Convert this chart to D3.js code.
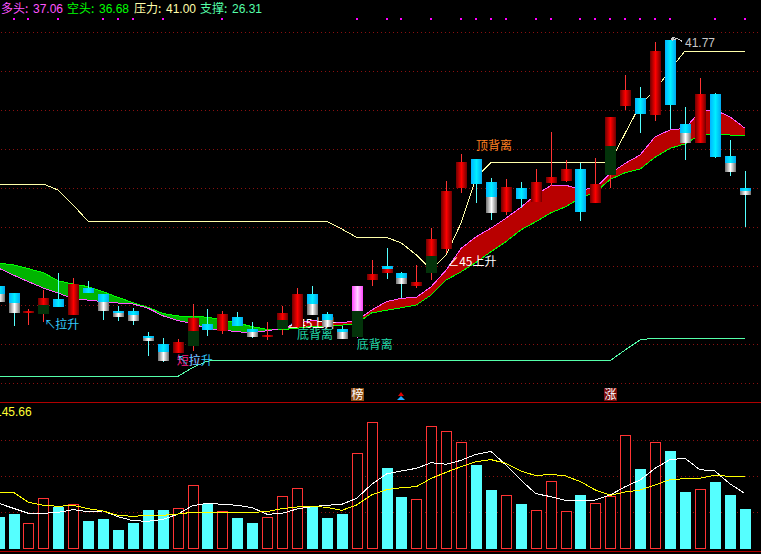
<!DOCTYPE html>
<html><head><meta charset="utf-8">
<style>html,body{margin:0;padding:0;background:#000;overflow:hidden}svg{display:block}
text{font-family:"Liberation Sans","Noto Sans CJK SC",sans-serif;font-size:12px}
.cjk{font-family:"Noto Sans CJK SC",sans-serif;font-size:12px}</style>
<script src="https://cdn.jsdelivr.net/npm/d3@7/dist/d3.min.js"></script>
</head><body><div id="c"></div>
<script>
const candleKind=["cg","cg","r","rg","c","r","c","cg","cg","cg","cg","cg","r","rg","c","r","c","cg","r","rg","r","cg","cg","cg","pg","r","cr","cg","r","rg","r","r","c","cg","r","c","r","r","r","c","r","rg","r","c","r","c","cg","r","c","cg","cg"];
const candleHigh=[28.97,28.61,27.79,28.77,29.64,29.38,29.23,28.56,27.95,27.83,26.60,26.31,26.26,28.05,27.79,27.69,27.64,27.13,27.13,27.95,28.87,28.97,27.64,26.92,28.97,30.30,30.92,29.69,30.05,31.94,34.35,35.73,35.47,34.50,34.45,34.29,34.96,36.85,35.42,35.27,35.52,37.62,39.77,39.16,41.46,41.56,38.13,39.62,38.85,36.44,34.86];
const candleTop=[28.97,28.61,27.71,28.36,28.29,29.09,28.87,28.56,27.69,27.69,26.41,26.00,26.10,27.33,27.03,27.54,27.38,26.77,26.46,27.59,28.56,28.56,27.54,26.77,28.97,29.59,29.99,29.64,29.18,31.38,33.83,35.32,35.47,34.29,34.04,33.99,34.29,34.55,34.96,34.96,34.19,37.62,39.00,38.59,41.00,41.56,37.26,38.80,38.80,35.63,33.99];
const candleSplit=[28.56,28.10,null,28.00,null,null,null,28.15,27.57,27.49,26.32,25.59,null,26.67,null,null,null,26.62,null,27.23,null,28.05,27.23,26.62,27.69,null,29.84,29.38,null,30.51,null,null,null,33.53,null,null,null,null,null,null,null,36.14,null,null,null,null,36.80,null,null,35.27,33.83];
const candleBottom=[28.15,27.59,27.60,27.54,27.90,27.49,28.61,27.69,27.38,27.18,26.16,25.13,25.54,25.90,26.72,26.67,26.92,26.36,26.36,26.77,26.87,27.49,26.87,26.26,26.36,29.28,29.64,29.07,28.97,29.64,30.87,33.99,34.19,32.71,32.76,33.42,33.27,34.24,34.35,32.76,33.22,34.65,38.18,37.77,37.72,38.24,36.29,36.29,35.57,34.81,33.63];
const candleLow=[28.15,26.92,26.97,27.13,27.90,27.49,28.61,27.23,27.19,26.99,25.39,25.08,25.54,25.64,26.41,26.51,26.92,26.31,26.21,26.46,26.87,27.49,26.87,26.26,26.31,28.97,29.33,28.36,28.87,29.28,30.66,33.73,33.22,32.35,32.61,32.96,33.27,34.09,34.29,32.30,33.22,33.99,37.98,36.80,37.42,37.01,35.42,36.29,35.52,34.60,31.99];
const duoLine=[29.89,29.53,29.19,28.87,28.61,28.31,28.25,28.17,28.10,28.05,27.84,27.45,27.20,27.06,26.77,26.72,26.63,26.58,26.68,26.81,27.06,27.20,27.14,27.09,27.20,27.74,28.17,28.34,28.39,28.94,29.79,30.90,31.49,31.93,32.44,33.00,33.63,34.11,34.14,33.89,33.99,34.74,35.25,35.68,36.61,36.96,37.04,37.89,37.98,37.64,37.06];
const kongLine=[30.15,30.05,29.86,29.65,29.24,29.07,28.94,28.68,28.39,28.12,27.88,27.57,27.44,27.40,27.38,27.23,27.08,26.89,26.75,26.74,26.81,26.90,26.92,26.97,27.05,27.59,27.73,27.86,28.00,28.51,29.28,29.70,30.18,30.73,31.24,31.84,32.26,32.71,33.03,33.48,33.78,34.43,34.77,34.96,35.56,36.02,36.24,36.70,36.74,36.70,36.68];
const resistLine=[34.19,34.19,34.19,34.19,33.88,33.12,32.28,32.28,32.28,32.28,32.28,32.28,32.28,32.28,32.28,32.28,32.28,32.28,32.28,32.28,32.28,32.28,32.28,31.89,31.46,31.46,31.46,31.17,30.56,29.79,30.56,32.20,34.50,35.30,35.30,35.30,35.30,35.30,35.30,35.30,35.30,35.30,36.80,38.24,39.00,40.03,41.00,41.00,41.00,41.00,41.00];
const supportLine=[24.32,24.32,24.32,24.32,24.32,24.32,24.32,24.32,24.32,24.32,24.32,24.32,24.34,24.80,25.13,25.16,25.16,25.16,25.16,25.16,25.16,25.16,25.16,25.16,25.16,25.16,25.16,25.16,25.16,25.16,25.16,25.16,25.16,25.16,25.16,25.16,25.16,25.16,25.16,25.16,25.16,25.16,25.70,26.21,26.31,26.31,26.31,26.31,26.31,26.31,26.31];
const signalIdx=[1,2,4,7,8,9,11,15,24,26,27,29,31,32,33,34,36,37,39,40,41,42,43,44,45,48,50];
const volumeValues=[63.8,69.8,51.1,101.4,84.5,89.3,55.7,59.8,37.6,51.7,77.9,77.9,81.3,127.6,89.9,75.2,61.8,51.7,63.2,105.4,121.5,84.5,61.8,69.8,191.9,254.3,162.4,104,99.4,246.3,236.2,214.1,168.4,118.1,107.4,89.9,77.3,135.6,75.2,108,91.3,105.4,228.2,160.4,214.1,196.6,114.1,119.5,134.2,108,79.9];
const volWhite=[91.3,81.2,71.2,71.2,73.2,78.6,74.5,75.9,64.5,56.4,55.1,59.1,69.2,86.6,91.3,89.3,87.3,82.6,69.2,71.2,79.9,84.6,87.3,89.3,101.4,129.5,150.3,156.4,161.7,173.1,169.8,177.8,189.9,195.9,168.4,138.3,110.8,104.7,97.3,97.3,98,108.1,124.8,138.3,161.7,179.2,181.8,159,156.4,130.9,111.4];
const volYellow=[113.4,113.4,93.3,87.3,85.3,87.3,80.6,75.9,67.1,65.1,67.1,67.1,69.8,73.2,73.2,73.2,73.2,73.2,74.5,80.6,83.9,85.3,83.3,77.2,88,108.1,118.8,122.8,124.8,141.6,153.7,165.1,175.1,179.2,171.8,156.4,147,149.6,146.3,134.9,118.1,107.4,114.1,118.1,128.2,138.9,140.9,141.6,147.6,145.6,145.66];
const priceGrid=[41.947,39.95,37.955,35.96,33.96,31.97,29.97,27.97,25.98,23.98];
const volumeGrid=[72.8,145.3,217.7];
const legendLabels=["多头","空头","压力","支撑"];
const legendValues=["37.06","36.68","41.00","26.31"];
const volumeLabel="145.66";

const W=761,H=554;
const colors={legend:["#ff55ff","#00ff00","#ffffaa","#55ffaa"]};
const legendX=[1,67,134,200];
const x=d3.scaleLinear().domain([0,50]).range([-1.4,744.6]);
const y=d3.scaleLinear().domain([41,26.31]).range([51,338]);
const v=d3.scaleLinear().domain([0,145.66]).range([548.7,476.3]);
const svg=d3.select("#c").append("svg").attr("width",W).attr("height",H).style("background","#000");
const defs=svg.append("defs");
function grad(id,edge,mid){const g=defs.append("linearGradient").attr("id",id).attr("x1",0).attr("x2",1).attr("y1",0).attr("y2",0);
 g.append("stop").attr("offset",0).attr("stop-color",edge);g.append("stop").attr("offset",.5).attr("stop-color",mid);g.append("stop").attr("offset",1).attr("stop-color",edge);}
grad("gRed","#6e0000","#ff0000");
grad("gGray","#707070","#ffffff");
grad("gPink","#ff44ff","#ffd0ff");
const gc=defs.append("linearGradient").attr("id","gCyan").attr("x1",0).attr("x2",1).attr("y1",0).attr("y2",0);
gc.append("stop").attr("offset",0).attr("stop-color","#00b4ff");gc.append("stop").attr("offset",.5).attr("stop-color","#00eeff");gc.append("stop").attr("offset",1).attr("stop-color","#00a8f0");
const kindFill={r:["url(#gRed)"],c:["url(#gCyan)"],cg:["url(#gCyan)","url(#gGray)"],rg:["url(#gRed)","#03330a"],pg:["url(#gPink)","#03330a"],cr:["url(#gCyan)","url(#gRed)"]};
const wickColor={r:"#ff3333",rg:"#ff3333",c:"#55ffff",cg:"#55ffff",cr:"#55ffff",pg:"#ff55ff"};

const crisp=g=>g.attr("shape-rendering","crispEdges");
// grids
const grid=svg.append("g").call(crisp);
grid.selectAll(".p").data(priceGrid).join("line").attr("class","p").attr("x1",1).attr("x2",W).attr("y1",d=>Math.floor(y(d))+.5).attr("y2",d=>Math.floor(y(d))+.5).attr("stroke","#8a1010").attr("stroke-dasharray","1 3");
grid.selectAll(".v").data(volumeGrid).join("line").attr("class","v").attr("x1",1).attr("x2",W).attr("y1",d=>Math.floor(v(d))+.5).attr("y2",d=>Math.floor(v(d))+.5).attr("stroke","#8a1010").attr("stroke-dasharray","1 3");
// frame
svg.append("g").call(crisp).selectAll("line").data([402,551]).join("line").attr("x1",0).attr("x2",W).attr("y1",d=>d+.5).attr("y2",d=>d+.5).attr("stroke","#b00000");

const lineOf=a=>d3.line().x((d,i)=>x(i)).y(d=>y(d))(a);
const main=svg.append("g").call(crisp);
main.append("path").attr("d",lineOf(resistLine)).attr("fill","none").attr("stroke","#ffffaa");
main.append("path").attr("d",lineOf(supportLine)).attr("fill","none").attr("stroke","#55ffaa");
// band
const areaGen=d3.area().x(d=>x(d.i)).y0(d=>y(d.a)).y1(d=>y(d.b));
const segs=d3.range(50).map(i=>[{i,a:duoLine[i],b:kongLine[i]},{i:i+1,a:duoLine[i+1],b:kongLine[i+1]}]);
main.selectAll(".band").data(segs).join("path").attr("class","band").attr("d",areaGen).attr("fill",d=>(d[0].a+d[1].a)>(d[0].b+d[1].b)?"#b80000":"#00b400").attr("stroke",d=>(d[0].a+d[1].a)>(d[0].b+d[1].b)?"#b80000":"#00b400").attr("stroke-width",.5);
main.append("path").attr("d",lineOf(kongLine)).attr("fill","none").attr("stroke","#00ff00");
main.append("path").attr("d",lineOf(duoLine)).attr("fill","none").attr("stroke","#ff55ff");

// text under candles
function note(g,i,p,dx,dy,t,c,cls){g.append("text").attr("class",cls||"cjk").attr("x",x(i)+dx).attr("y",y(p)+dy).attr("fill",c).text(t);}
const whiteC="#ffffff",cyanC="#33ccff",tealC="#22d8a8",orangeC="#ff8022",pinkC="#ff1e82";
const under=svg.append("g");
note(under,20,27,-10,3,"∠45上升",whiteC);

// candles
const cs=svg.append("g").call(crisp);
const idx=d3.range(candleKind.length);
cs.selectAll(".w").data(idx).join("line").attr("class","w").attr("x1",i=>Math.round(x(i))+.5).attr("x2",i=>Math.round(x(i))+.5).attr("y1",i=>y(candleHigh[i])).attr("y2",i=>y(candleLow[i])).attr("stroke",i=>wickColor[candleKind[i]]);
idx.forEach(i=>{
 const f=kindFill[candleKind[i]],x0=Math.round(x(i))-5,t=Math.round(y(candleTop[i])),b=Math.max(Math.round(y(candleBottom[i])),t+2);
 if(candleSplit[i]===null){cs.append("rect").attr("x",x0).attr("y",t).attr("width",11).attr("height",b-t).attr("fill",f[0]);}
 else{const m=Math.round(y(candleSplit[i]));
  cs.append("rect").attr("x",x0).attr("y",t).attr("width",11).attr("height",m-t).attr("fill",f[0]);
  cs.append("rect").attr("x",x0).attr("y",m).attr("width",11).attr("height",b-m).attr("fill",f[1]);}
});
// signal dots
svg.append("g").call(crisp).selectAll("rect").data(signalIdx).join("rect").attr("x",i=>Math.round(x(i))-1).attr("y",18).attr("width",2).attr("height",2).attr("fill","#ff00ff");

// annotations over candles
const ann=svg.append("g");
const yMid=25.3;
note(ann,4,27,-14,4,"↖",cyanC);
note(ann,4,27,-3,4,"拉升",cyanC);
note(ann,12,yMid,-1,7,"短拉",pinkC);
note(ann,12,yMid,-1,7,"↖",cyanC);
note(ann,12,yMid,11,7,"拉升",cyanC);
note(ann,20,yMid,0,-18.7,"底背离",tealC);
note(ann,24,yMid,0,-8.7,"底背离",tealC);
note(ann,32,35.7,0,-4.5,"顶背离",orangeC);
note(ann,30,31,1,19.6,"∠45上升",whiteC);
note(ann,45,41.5,15,6,"41.77","#c8c8c8","v");
const px=x(45),py=y(41.5);
ann.append("path").attr("d",d3.line()([[px+2,py-1],[px+1,py-3],[px+5,py-4],[px+2,py-3],[px+5,py-2],[px+2,py-1],[px+7,py-3],[px+12,py]])).attr("fill","none").attr("stroke","#c8c8c8").attr("shape-rendering","crispEdges");

// legend
const lg=svg.append("g");
legendLabels.forEach((t,i)=>{
 lg.append("text").attr("class","cjk").attr("x",legendX[i]).attr("y",13).attr("fill",colors.legend[i]).text(t+":");
 lg.append("text").attr("x",legendX[i]+32).attr("y",13).attr("fill",colors.legend[i]).text(legendValues[i]);
});

// badges
function badge(i,bg,t){const cx=Math.round(x(i));
 svg.append("rect").attr("x",cx-6).attr("y",388).attr("width",13).attr("height",13).attr("fill",bg).attr("shape-rendering","crispEdges");
 svg.append("text").attr("class","cjk").attr("x",cx+.5).attr("y",399).attr("text-anchor","middle").attr("fill","#fff").text(t);}
badge(24,"#8a4a12","榜");badge(41,"#780c0c","涨");
const tx=Math.round(x(27));
svg.append("path").attr("d",d3.line()([[tx-3,396],[tx,392],[tx+3,396]])).attr("fill","#dd0000");
svg.append("path").attr("d",d3.line()([[tx-4,400],[tx,396],[tx+4,400]])).attr("fill","#22aaff");

// volume
const vg=svg.append("g").call(crisp);
idx.forEach(i=>{
 const isRed=["r","rg","pg"].includes(candleKind[i]);
 const x0=Math.round(x(i))-5,t=Math.round(v(volumeValues[i])),b=Math.round(v(0));
 if(isRed) vg.append("rect").attr("x",x0+.5).attr("y",t+.5).attr("width",10).attr("height",b-t-1).attr("fill","#000").attr("stroke","#ff3333");
 else vg.append("rect").attr("x",x0).attr("y",t).attr("width",11).attr("height",b-t).attr("fill","#55ffff");
});
const vl=d3.line().x((d,i)=>x(i)).y(d=>v(d));
vg.append("path").attr("d",vl(volWhite)).attr("fill","none").attr("stroke","#ffffff");
vg.append("path").attr("d",vl(volYellow)).attr("fill","none").attr("stroke","#ffff00");
svg.append("text").attr("x",-5).attr("y",416).attr("fill","#ffff33").text(volumeLabel);
</script>
</body></html>
